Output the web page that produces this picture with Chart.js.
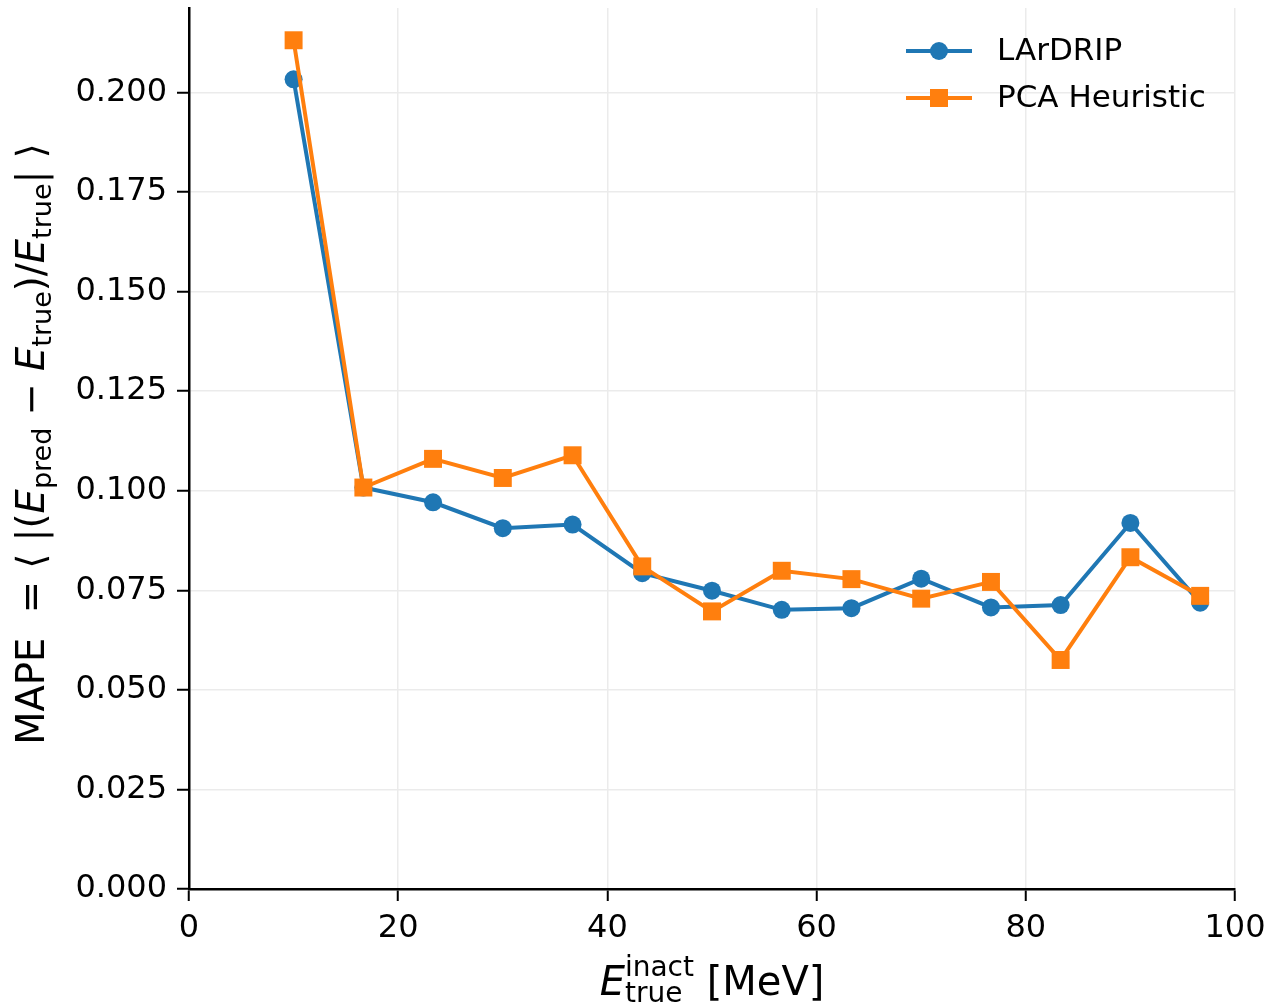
<!DOCTYPE html>
<html>
<head>
<meta charset="utf-8">
<script src="https://cdn.jsdelivr.net/npm/chart.js@4.4.1/dist/chart.umd.min.js"></script>
<style>
  html, body { margin: 0; padding: 0; background: #fff; }
  #wrap { width: 1270px; height: 1006px; }
</style>
</head>
<body>
<div id="wrap"><canvas id="mapeChart" width="1270" height="1006"></canvas></div>
<script>
// bin centres of true inactive energy [MeV]
const energyBins = [10, 16.67, 23.33, 30, 36.67, 43.33, 50, 56.67, 63.33, 70, 76.67, 83.33, 90, 96.67];
const lardripMape = [0.2033, 0.1008, 0.0971, 0.0906, 0.0915, 0.0793, 0.0749, 0.0701, 0.0705, 0.0779, 0.0707, 0.0713, 0.0919, 0.0719];
const pcaMape = [0.2131, 0.1008, 0.1080, 0.1032, 0.1089, 0.0810, 0.0697, 0.0799, 0.0778, 0.0729, 0.0771, 0.0575, 0.0833, 0.0736];
const seriesNames = ['LArDRIP', 'PCA Heuristic'];
const xTicks = [0, 20, 40, 60, 80, 100];
const yTicks = [0, 0.025, 0.05, 0.075, 0.1, 0.125, 0.15, 0.175, 0.2];

const BLUE = '#1f77b4';
const ORANGE = '#ff7f0e';
const FONT = '"DejaVu Sans", sans-serif';

const toPoints = (ys) => energyBins.map((x, i) => ({ x: x, y: ys[i] }));

// draw a run of text pieces; each piece: {t, it, sub} or {stack: [sup, sub]}
function drawPieces(ctx, pieces, size, cx, baseY) {
  const small = Math.round(size * 0.7);
  const fontOf = (s, it) => (it ? 'italic ' : '') + s + 'px ' + FONT;
  const widths = pieces.map(p => {
    if (p.stack) {
      ctx.font = fontOf(small);
      return Math.max(ctx.measureText(p.stack[0]).width, ctx.measureText(p.stack[1]).width);
    }
    ctx.font = fontOf(p.sub ? small : size, p.it);
    return ctx.measureText(p.t).width;
  });
  const total = widths.reduce((a, b) => a + b, 0);
  let x = cx - total / 2;
  ctx.textAlign = 'left';
  ctx.textBaseline = 'alphabetic';
  pieces.forEach((p, i) => {
    if (p.stack) {
      ctx.font = fontOf(small);
      ctx.fillText(p.stack[0], x, baseY - size * 0.47);
      ctx.fillText(p.stack[1], x, baseY + size * 0.17);
    } else if (p.sub) {
      ctx.font = fontOf(small);
      ctx.fillText(p.t, x, baseY + size * 0.17);
    } else {
      ctx.font = fontOf(size, p.it);
      ctx.fillText(p.t, x, baseY);
    }
    x += widths[i];
  });
}

// pin the top of the plot area to match the reference
const areaPlugin = {
  id: 'areaPlugin',
  afterLayout(chart) {
    const top = 8;
    const y = chart.scales.y;
    chart.chartArea.top = top;
    chart.chartArea.height = chart.chartArea.bottom - top;
    y.top = top;
    y.height = y.bottom - top;
    y.configure();
  }
};

const labelsPlugin = {
  id: 'labelsPlugin',
  afterDraw(chart) {
    const ctx = chart.ctx;
    const area = chart.chartArea;
    ctx.save();
    ctx.fillStyle = '#000';

    // x axis title
    drawPieces(ctx, [
      { t: 'E', it: true },
      { stack: ['inact', 'true'] },
      { t: ' [MeV]' }
    ], 40, (area.left + area.right) / 2, 995);

    // y axis title (rotated)
    ctx.save();
    ctx.translate(44, 444);
    ctx.rotate(-Math.PI / 2);
    drawPieces(ctx, [
      { t: 'MAPE  = \u27E8 |(' },
      { t: 'E', it: true },
      { t: 'pred', sub: true },
      { t: ' \u2212 ' },
      { t: 'E', it: true },
      { t: 'true', sub: true },
      { t: ')/' },
      { t: 'E', it: true },
      { t: 'true', sub: true },
      { t: '| \u27E9' }
    ], 38.5, 0, 0);
    ctx.restore();

    // legend
    const entries = [
      { name: seriesNames[0], color: BLUE, style: 'circle', y: 51 },
      { name: seriesNames[1], color: ORANGE, style: 'rect', y: 98 }
    ];
    entries.forEach(e => {
      ctx.strokeStyle = e.color;
      ctx.lineWidth = 4;
      ctx.beginPath();
      ctx.moveTo(906, e.y);
      ctx.lineTo(972, e.y);
      ctx.stroke();
      ctx.fillStyle = e.color;
      if (e.style === 'circle') {
        ctx.beginPath();
        ctx.arc(939, e.y, 9, 0, Math.PI * 2);
        ctx.fill();
      } else {
        ctx.fillRect(930, e.y - 9, 18, 18);
      }
      ctx.fillStyle = '#000';
      ctx.font = '31px ' + FONT;
      ctx.textAlign = 'left';
      ctx.textBaseline = 'middle';
      ctx.fillText(e.name, 997, e.y + 1);
    });
    ctx.restore();
  }
};

new Chart(document.getElementById('mapeChart'), {
  type: 'line',
  data: {
    datasets: [{
      label: seriesNames[0],
      data: toPoints(lardripMape),
      borderColor: BLUE,
      backgroundColor: BLUE,
      borderWidth: 4,
      pointStyle: 'circle',
      pointRadius: 9,
      pointBorderWidth: 0,
      tension: 0,
      order: 1
    }, {
      label: seriesNames[1],
      data: toPoints(pcaMape),
      borderColor: ORANGE,
      backgroundColor: ORANGE,
      borderWidth: 4,
      pointStyle: 'rect',
      pointRadius: 12.7,
      pointBorderWidth: 0,
      tension: 0,
      order: 0
    }]
  },
  options: {
    responsive: false,
    animation: false,
    layout: { padding: { top: 1, right: 35, left: 0, bottom: 0 } },
    plugins: {
      legend: { display: false },
      tooltip: { enabled: false }
    },
    scales: {
      x: {
        type: 'linear',
        min: 0,
        max: 100,
        afterBuildTicks: s => { s.ticks = xTicks.map(v => ({ value: v })); },
        afterFit: s => { s.height = 117; s.paddingLeft = 0; s.paddingRight = 0; },
        grid: { color: '#ebebeb', lineWidth: 1.5, tickColor: '#000', tickLength: 12, tickWidth: 2 },
        border: { color: '#000', width: 2.5 },
        ticks: { color: '#000', font: { family: FONT, size: 32 }, padding: 8, maxRotation: 0 }
      },
      y: {
        min: 0,
        max: 0.2212,
        afterBuildTicks: s => { s.ticks = yTicks.map(v => ({ value: v })); },
        afterFit: s => { s.width = 189; s.paddingTop = 0; s.paddingBottom = 0; },
        grid: { color: '#ebebeb', lineWidth: 1.5, tickColor: '#000', tickLength: 12, tickWidth: 2 },
        border: { color: '#000', width: 2.5 },
        ticks: {
          color: '#000',
          font: { family: FONT, size: 32 },
          padding: 10,
          callback: v => v.toFixed(3)
        }
      }
    }
  },
  plugins: [areaPlugin, labelsPlugin]
});
</script>
</body>
</html>
